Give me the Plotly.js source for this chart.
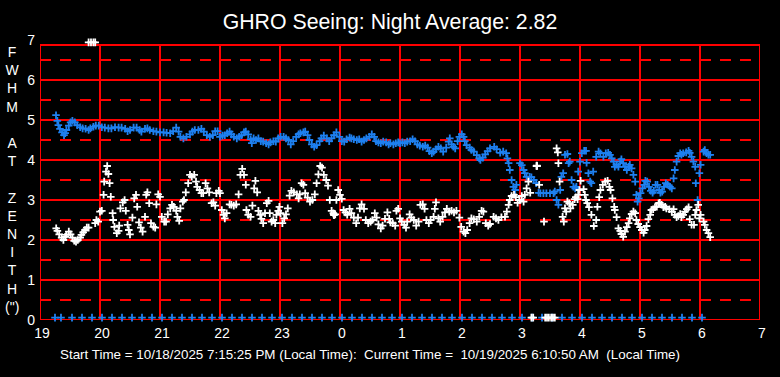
<!DOCTYPE html>
<html>
<head>
<meta charset="utf-8">
<script src="https://cdn.plot.ly/plotly-3.0.1.min.js"></script>
<style>
html,body{margin:0;padding:0;background:#000;}
#chart{width:780px;height:377px;}
.shapelayer path{shape-rendering:crispEdges;}
</style>
</head>
<body>
<div id="chart"></div>
<script>
// Hours are continuous from 19 (7 PM) to 31 (7 AM next day)
const tickVals = [19,20,21,22,23,24,25,26,27,28,29,30,31];
const tickText = ["19","20","21","22","23","0","1","2","3","4","5","6","7"];

// Blue series (hour, FWHM)
const blueT = [19.267,19.289,19.306,19.333,19.367,19.40,19.42,19.44,19.48,19.51,19.54,19.58,19.62,19.67,19.71,19.76,19.81,19.84,19.89,19.93,19.98,
20.03,20.08,20.14,20.19,20.25,20.31,20.36,20.42,20.46,20.50,20.56,20.61,20.66,20.69,20.75,20.79,20.83,20.89,20.94,
21.00,21.06,21.11,21.17,21.22,21.27,21.31,21.34,21.39,21.44,21.50,21.54,21.58,21.64,21.69,21.73,21.78,21.83,21.88,21.92,21.96,
22.00,22.04,22.08,22.12,22.16,22.19,22.23,22.28,22.32,22.36,22.40,22.43,22.47,22.51,22.53,22.56,22.60,22.64,22.68,22.72,22.77,22.81,22.84,22.89,22.93,22.97,
23.01,23.06,23.10,23.14,23.18,23.22,23.27,23.31,23.34,23.39,23.42,23.46,23.49,23.53,23.57,23.61,23.66,23.69,23.73,23.78,23.82,23.86,23.90,23.94,23.99,
24.03,24.07,24.11,24.16,24.19,24.23,24.28,24.32,24.36,24.40,24.44,24.49,24.53,24.57,24.60,24.64,24.68,24.72,24.77,24.81,24.84,24.89,24.93,24.97,
25.00,25.04,25.08,25.12,25.17,25.21,25.25,25.29,25.33,25.38,25.42,25.46,25.49,25.53,25.56,25.60,25.64,25.68,25.72,25.77,25.81,25.83,25.86,25.89,25.92,25.96,25.99,
26.03,26.06,26.08,26.11,26.16,26.19,26.23,26.28,26.32,26.34,26.38,26.42,26.46,
26.50,26.57,26.61,26.67,26.72,26.77,26.79,26.81,26.83,26.86,26.89,26.92,26.94,27.00,27.03,27.06,27.08,27.11,27.16,27.19,27.23,27.27,27.31,27.34,27.39,27.44,27.50,27.56,27.58,27.61,27.64,27.67,27.69,27.72,27.75,27.79,27.81,27.83,27.86,27.89,27.92,27.94,27.97,
28.00,28.03,28.07,28.10,28.11,28.14,28.17,28.19,28.22,28.27,28.31,28.34,28.39,28.43,28.47,28.50,28.53,28.56,28.58,28.61,28.64,28.67,28.69,28.72,28.75,28.78,28.81,28.83,28.86,28.89,28.92,28.94,28.96,28.98,
29.01,29.04,29.07,29.09,29.12,29.15,29.18,29.21,29.23,29.26,29.29,29.32,29.34,29.37,29.40,29.43,29.46,29.50,29.53,29.56,29.58,29.61,29.64,29.67,29.69,29.72,29.77,29.81,29.83,29.86,29.89,29.92,29.93,29.96,29.99,
30.01,30.06,30.08,30.11,30.14,30.17];
const blueV = [5.12,4.98,4.87,4.78,4.69,4.62,4.67,4.75,4.86,4.94,4.98,4.94,4.87,4.82,4.79,4.78,4.75,4.79,4.83,4.86,4.86,
4.82,4.81,4.79,4.79,4.82,4.81,4.81,4.78,4.72,4.75,4.81,4.81,4.75,4.71,4.78,4.79,4.75,4.72,4.71,
4.69,4.69,4.68,4.67,4.72,4.81,4.71,4.58,4.54,4.58,4.64,4.71,4.75,4.75,4.78,4.71,4.62,4.58,4.62,4.72,4.72,
4.58,4.61,4.62,4.67,4.71,4.64,4.58,4.54,4.58,4.62,4.69,4.71,4.64,4.52,4.42,4.54,4.50,4.54,4.47,4.46,4.42,4.39,4.44,4.47,4.46,4.54,
4.58,4.58,4.54,4.50,4.39,4.47,4.58,4.64,4.67,4.69,4.71,4.62,4.50,4.39,4.33,4.37,4.47,4.54,4.61,4.54,4.47,4.54,4.62,4.69,4.58,
4.47,4.46,4.52,4.56,4.54,4.52,4.50,4.52,4.46,4.50,4.54,4.58,4.64,4.58,4.47,4.44,4.42,4.46,4.44,4.39,4.42,4.39,4.42,4.44,
4.42,4.44,4.42,4.46,4.47,4.52,4.47,4.39,4.36,4.33,4.36,4.31,4.22,4.17,4.21,4.27,4.33,4.29,4.21,4.31,4.46,4.54,4.39,4.33,4.29,4.47,4.58,
4.64,4.58,4.47,4.37,4.31,4.25,4.21,4.12,4.04,4.00,4.06,4.14,4.22,
4.29,4.33,4.27,4.18,4.21,4.17,4.04,3.92,3.75,3.50,3.33,3.25,3.38,3.92,3.87,3.75,3.67,3.58,3.58,3.57,3.50,3.42,3.18,3.17,3.17,3.17,3.17,3.17,3.21,3.00,2.88,3.25,3.58,3.67,4.13,4.15,3.92,3.96,3.50,3.33,3.29,3.33,3.71,
3.96,4.17,4.23,4.23,3.93,3.67,3.46,3.42,3.71,4.08,4.21,4.17,4.08,4.17,4.18,4.13,4.04,3.96,3.83,3.88,3.83,3.96,4.02,3.92,3.83,3.75,3.83,3.88,3.79,3.63,3.46,3.13,2.96,3.04,
3.17,3.29,3.38,3.48,3.46,3.33,3.23,3.18,3.23,3.38,3.38,3.25,3.18,3.21,3.33,3.42,3.38,3.33,3.29,3.54,3.75,3.96,4.10,4.17,4.13,4.17,4.19,4.23,4.18,4.08,3.96,3.83,3.42,3.00,3.67,
3.88,4.21,4.25,4.17,4.13,4.13];

// White series (hour, FWHM)
const whiteT = [19.27,19.29,19.32,19.36,19.39,19.42,19.44,19.48,19.51,19.54,19.57,19.60,19.63,19.67,19.69,19.72,19.75,19.78,19.81,19.92,19.94,19.97,
20.00,20.03,20.06,20.07,20.10,20.12,20.14,20.16,20.18,20.21,20.22,20.24,20.28,20.31,20.32,20.34,20.38,20.41,20.43,20.46,20.48,20.50,20.54,20.57,20.60,20.62,20.65,20.68,20.71,20.75,20.77,20.79,20.82,20.85,20.89,20.92,20.94,20.97,
21.00,21.03,21.07,21.10,21.13,21.17,21.20,21.23,21.27,21.29,21.32,21.34,21.38,21.40,21.43,21.47,21.50,21.53,21.57,21.60,21.62,21.66,21.69,21.72,21.76,21.79,21.82,21.86,21.89,21.92,21.94,21.98,
22.00,22.03,22.06,22.08,22.11,22.16,22.19,22.23,22.27,22.31,22.34,22.37,22.40,22.43,22.44,22.47,22.51,22.54,22.57,22.59,22.62,22.64,22.67,22.69,22.72,22.75,22.78,22.81,22.83,22.86,22.89,22.92,22.94,22.97,22.99,
23.01,23.04,23.07,23.10,23.13,23.16,23.19,23.23,23.28,23.31,23.33,23.36,23.39,23.42,23.46,23.50,23.54,23.58,23.61,23.64,23.67,23.70,23.73,23.77,23.80,23.83,23.86,23.89,23.895,23.90,23.92,23.94,23.97,
24.00,24.03,24.06,24.09,24.12,24.16,24.19,24.23,24.27,24.30,24.33,24.36,24.40,24.43,24.47,24.51,24.54,24.58,24.61,24.64,24.68,24.71,24.75,24.79,24.82,24.84,24.88,24.92,24.94,24.97,
25.00,25.03,25.07,25.10,25.12,25.16,25.19,25.23,25.27,25.31,25.34,25.38,25.41,25.44,25.48,25.51,25.56,25.58,25.60,25.64,25.67,25.71,25.75,25.78,25.82,25.86,25.90,25.94,25.99,
26.02,26.06,26.09,26.12,26.16,26.19,26.23,26.28,26.32,26.36,26.39,26.43,26.47,
26.50,26.56,26.60,26.64,26.69,26.75,26.78,26.81,26.83,26.86,26.90,26.93,26.96,26.99,27.03,27.06,27.08,27.11,27.14,27.17,27.275,27.28,27.285,27.32,27.40,
27.61,27.63,27.64,27.66,27.71,27.73,27.75,27.77,27.79,27.82,27.84,27.88,27.91,27.93,27.96,27.97,27.99,
28.01,28.06,28.08,28.10,28.12,28.15,28.19,28.23,28.27,28.29,28.32,28.34,28.38,28.42,28.46,28.49,28.51,28.54,28.57,28.58,28.61,28.64,28.67,28.69,28.72,28.75,28.78,28.81,28.83,28.86,28.89,28.92,28.94,28.97,
29.00,29.03,29.06,29.08,29.11,29.14,29.17,29.19,29.22,29.25,29.28,29.31,29.33,29.36,29.39,29.42,29.44,29.49,29.53,29.56,29.58,29.61,29.64,29.67,29.69,29.72,29.75,29.78,29.81,29.83,29.86,29.90,29.92,29.94,29.97,29.99,
30.01,30.06,30.08,30.11,30.14,30.17];
const whiteV = [2.29,2.23,2.14,2.06,2.00,2.08,2.13,2.21,2.14,2.06,1.98,1.96,2.00,2.06,2.13,2.19,2.25,2.31,2.31,2.42,2.50,2.46,
2.71,2.73,3.13,3.46,3.71,3.85,3.65,3.42,3.08,2.67,2.50,2.33,2.17,2.23,2.36,2.79,2.94,3.00,2.73,2.38,2.25,2.14,2.56,3.04,3.13,2.83,2.44,2.31,2.21,2.58,3.13,3.19,2.92,2.42,2.33,2.31,2.89,3.14,
3.08,2.58,2.46,2.46,2.64,2.79,2.88,2.83,2.73,2.58,2.48,2.79,2.96,3.00,3.19,3.42,3.63,3.58,3.63,3.46,3.33,3.25,3.17,3.17,3.42,3.29,3.19,2.92,2.94,2.86,3.17,3.23,
3.17,2.75,2.63,2.54,2.67,2.89,2.88,2.86,2.89,3.14,3.63,3.78,3.63,3.38,2.75,2.63,2.58,2.86,3.29,3.48,3.19,2.73,2.63,2.53,2.42,2.67,2.92,2.98,2.67,2.46,2.50,2.42,2.63,2.73,2.83,
2.67,2.42,2.54,2.64,2.79,3.11,3.23,3.19,3.14,3.04,3.14,3.42,3.38,3.17,3.06,2.96,3.00,3.14,3.42,3.64,3.85,3.81,3.63,3.50,3.36,3.00,2.73,2.67,2.64,2.62,2.64,3.00,3.25,
3.13,3.03,2.75,2.69,2.63,2.78,2.67,2.56,2.42,2.56,2.79,2.89,2.78,2.50,2.42,2.46,2.50,2.67,2.56,2.39,2.29,2.36,2.53,2.69,2.53,2.44,2.42,2.36,2.73,2.78,
2.54,2.46,2.38,2.31,2.46,2.64,2.56,2.50,2.36,2.46,2.88,2.89,2.78,2.50,2.42,2.50,2.58,2.78,2.94,2.54,2.46,2.58,2.69,2.78,2.71,2.73,2.69,2.73,2.56,
2.33,2.21,2.17,2.25,2.42,2.54,2.52,2.46,2.58,2.73,2.71,2.42,2.36,
2.40,2.58,2.54,2.50,2.57,2.58,2.71,2.88,3.00,3.10,3.13,3.07,2.93,3.00,3.10,2.96,3.13,3.29,3.46,3.18,3.85,3.86,3.85,3.38,2.46,
4.29,4.19,3.92,3.46,2.58,2.46,2.79,2.71,2.96,2.92,2.79,2.88,3.02,3.07,3.02,3.13,3.25,
3.48,3.27,3.13,3.00,2.92,2.82,2.63,2.35,2.50,2.83,3.07,3.25,3.38,3.46,3.48,3.33,3.25,3.04,2.83,2.75,2.57,2.29,2.23,2.15,2.08,2.21,2.32,2.42,2.54,2.65,2.71,2.67,2.50,2.40,
2.32,2.25,2.18,2.25,2.35,2.52,2.63,2.75,2.77,2.82,2.83,2.92,2.93,2.88,2.82,2.83,2.79,2.77,2.71,2.77,2.63,2.57,2.60,2.65,2.57,2.63,2.71,2.77,2.82,2.52,2.38,2.38,2.63,2.75,2.88,2.54,
2.63,2.46,2.38,2.25,2.17,2.07];

// Off-scale readings pinned at the bottom / top of the chart
const blueLowMin = [15,21,32,42,52,62,72,82,92,102,112,122,132,142,152,162,172,182,192,202,212,222,232,242,252,262,272,282,292,302,312,322,332,342,352,362,372,382,392,402,412,422,432,442,452,462,472,482,492,502,512,522,532,542,552,562,572,582,592,602,612,622,632,642,652,662];
const blueLowV = 0.06;
const whiteLowT = [27.19,27.22,27.42,27.45,27.48,27.52,27.55,27.58];
const whiteLowV = [0.06,0.06,0.06,0.06,0.06,0.06,0.06,0.06];
const whiteHighT = [19.81,19.85,19.89,19.92];
const whiteHighV = [6.94,6.94,6.94,6.94];

const BLUE = '#1E80F0';
const WHITE = '#FFFFFF';
const RED = '#FF0000';
const FONT = 'Liberation Sans, Arial, sans-serif';

const mk = (c) => ({symbol:'cross-thin', size:5.4, line:{color:c, width:1.8}, color:c});

const blueLowT = blueLowMin.map(m => 19 + m/60);
const traces = [
  {x: blueT, y: blueV, type:'scatter', mode:'markers', marker: mk(BLUE), cliponaxis:false, hoverinfo:'skip'},
  {x: blueLowT, y: blueLowT.map(() => blueLowV), type:'scatter', mode:'markers', marker: mk(BLUE), cliponaxis:false, hoverinfo:'skip'},
  {x: whiteT, y: whiteV, type:'scatter', mode:'markers', marker: mk(WHITE), cliponaxis:false, hoverinfo:'skip'},
  {x: whiteLowT, y: whiteLowV, type:'scatter', mode:'markers', marker: mk(WHITE), cliponaxis:false, hoverinfo:'skip'},
  {x: whiteHighT, y: whiteHighV, type:'scatter', mode:'markers', marker: mk(WHITE), cliponaxis:false, hoverinfo:'skip'}
];

// Grid (frame top sits at 6.875)
const TOP = 6.875;
const LW = 1.6;
const shapes = [];
for (let v = 1; v <= 6; v++) {
  shapes.push({type:'line', xref:'x', yref:'y', x0:19, x1:31, y0:v, y1:v, line:{color:RED, width:LW}, layer:'below'});
}
for (let v = 0.5; v < 7; v += 1) {
  shapes.push({type:'line', xref:'x', yref:'y', x0:19, x1:31, y0:v, y1:v, line:{color:RED, width:LW, dash:'11px,9px'}, layer:'below'});
}
for (let h = 19; h <= 31; h++) {
  shapes.push({type:'line', xref:'x', yref:'y', x0:h, x1:h, y0:0, y1:TOP, line:{color:RED, width:LW}, layer:'below'});
}
shapes.push({type:'line', xref:'x', yref:'y', x0:19, x1:31, y0:0, y1:0, line:{color:RED, width:LW}, layer:'below'});
shapes.push({type:'line', xref:'x', yref:'y', x0:19, x1:31, y0:TOP, y1:TOP, line:{color:RED, width:LW}, layer:'below'});

const yLabel = ['F','W','H','M','\u00a0','A','T','\u00a0','Z','E','N','I','T','H','(")'].join('<br>');

const layout = {
  width:780, height:377,
  paper_bgcolor:'#000', plot_bgcolor:'#000',
  margin:{l:40, r:20, t:40, b:57},
  showlegend:false,
  font:{family:FONT, color:'#fff', size:14},
  title:{text:'GHRO Seeing: Night Average: 2.82', x:0.5, xanchor:'center', y:0.942, yanchor:'middle',
         font:{family:FONT, size:21.3, color:'#fff'}},
  xaxis:{range:[19,31], tickvals:tickVals, ticktext:tickText, showgrid:false, zeroline:false, showline:false,
         ticks:'', tickfont:{family:FONT, size:14, color:'#fff'}, ticklabelshift:2, ticklabelstandoff:3, fixedrange:true},
  yaxis:{range:[0,7], tickvals:[0,1,2,3,4,5,6,7], showgrid:false, zeroline:false, showline:false,
         ticks:'', tickfont:{family:FONT, size:14, color:'#fff'}, ticklabelstandoff:4, fixedrange:true},
  shapes: shapes,
  annotations:[
    {text:yLabel, xref:'paper', yref:'paper', x:(12-40)/720, y:(320-179)/280, xanchor:'center', yanchor:'middle',
     showarrow:false, align:'center', font:{family:FONT, size:14, color:'#fff'}},
    {text:'Start Time = 10/18/2025 7:15:25 PM (Local Time):\u00a0 Current Time =\u00a0 10/19/2025 6:10:50 AM\u00a0 (Local Time)',
     xref:'paper', yref:'paper', x:(370-40)/720, y:(320-354)/280, xanchor:'center', yanchor:'middle',
     showarrow:false, font:{family:FONT, size:13.4, color:'#fff'}}
  ]
};

Plotly.newPlot('chart', traces, layout, {staticPlot:true, displayModeBar:false});
</script>
</body>
</html>
